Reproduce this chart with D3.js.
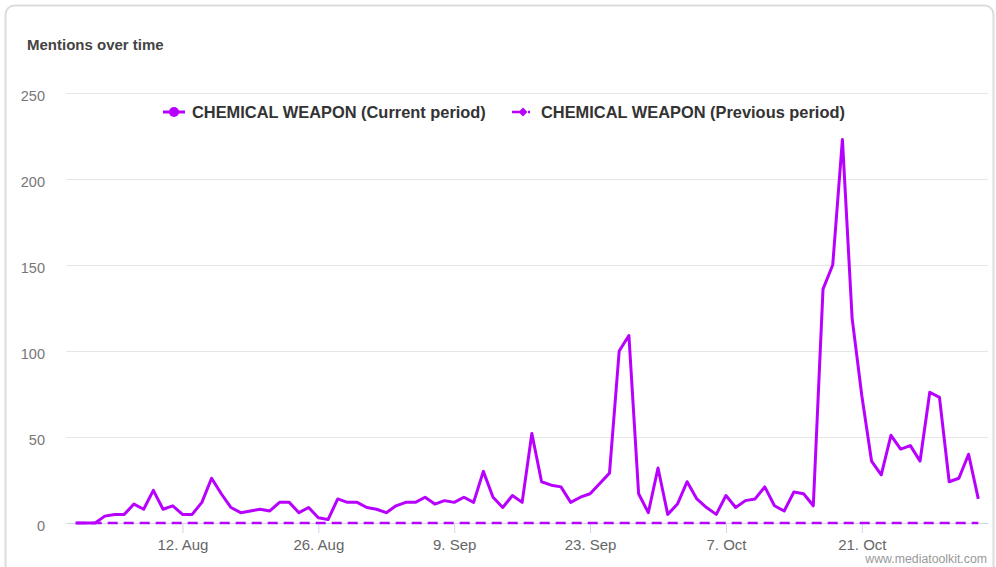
<!DOCTYPE html>
<html>
<head>
<meta charset="utf-8">
<script src="https://cdn.jsdelivr.net/npm/d3@7"></script>
<style>
  body { margin: 0; background: #fff; }
  svg { display: block; font-family: "Liberation Sans", Arial, sans-serif; }
</style>
</head>
<body>
<div id="chart"></div>
<script>
// daily mentions, 1 Aug -> 2 Nov
var startDate = "2019-08-01";
var currentValues = [0, 0, 0, 4, 5, 5, 11, 8, 19, 8,
  10, 5, 5, 12, 26, 17, 9, 6, 7, 8,
  7, 12, 12, 6, 9, 3, 2, 14, 12, 12,
  9, 8, 6, 10, 12, 12, 15, 11, 13, 12,
  15, 12, 30, 15, 9, 16, 12, 52, 24, 22,
  21, 12, 15, 17, 23, 29, 100, 109, 17, 6,
  32, 5, 11, 24, 14, 9, 5, 16, 9, 13,
  14, 21, 10, 7, 18, 17, 10, 136, 150, 223,
  119, 74, 36, 28, 51, 43, 45, 36, 76, 73,
  24, 26, 40, 14];
var previousValues = currentValues.map(function() { return 0; });
var yTicks = [0, 50, 100, 150, 200, 250];
var xTickDates = ["2019-08-12", "2019-08-26", "2019-09-09", "2019-09-23", "2019-10-07", "2019-10-21"];
var seriesNames = ["CHEMICAL WEAPON (Current period)", "CHEMICAL WEAPON (Previous period)"];

var parse = d3.utcParse("%Y-%m-%d");
var fmt = d3.utcFormat("%-d. %b");
var t0 = parse(startDate);
function toSeries(vals) {
  return vals.map(function(v, i) { return {date: d3.utcDay.offset(t0, i), value: v}; });
}
var current = toSeries(currentValues),
    previous = toSeries(previousValues);

var width = 996, height = 567;
var color = "#b800ff";

var svg = d3.select("#chart").append("svg")
    .attr("width", width)
    .attr("height", height);

// card
svg.append("rect")
    .attr("x", 5.5).attr("y", 5.5)
    .attr("width", 988).attr("height", 580)
    .attr("rx", 9)
    .attr("fill", "#fff")
    .attr("stroke", "#dcdcdc")
    .attr("stroke-width", 2);

svg.append("text")
    .attr("x", 27).attr("y", 50)
    .attr("font-size", 15).attr("font-weight", "bold")
    .attr("fill", "#444")
    .text("Mentions over time");

// scales
var x = d3.scaleUtc()
    .domain([d3.utcDay.offset(t0, -1), d3.utcDay.offset(t0, currentValues.length)])
    .range([66, 988]);
var y = d3.scaleLinear()
    .domain([0, 250])
    .range([523, 93]);

// grid + y labels
var yAxis = d3.axisLeft(y).tickValues(yTicks).tickSize(-(988 - 66)).tickPadding(21);
var gy = svg.append("g").attr("transform", "translate(66,0)").call(yAxis);
gy.select(".domain").remove();
gy.selectAll(".tick line").attr("stroke", "#e6e6e6");
gy.selectAll(".tick text")
    .attr("fill", "#777").attr("font-size", 14.5)
    .attr("dy", "0.55em");

// x axis
var xAxis = d3.axisBottom(x)
    .tickValues(xTickDates.map(parse))
    .tickFormat(fmt)
    .tickSize(10).tickSizeOuter(0).tickPadding(6);
var gx = svg.append("g").attr("transform", "translate(0,523)").call(xAxis);
gx.select(".domain").attr("stroke", "#ccd6eb");
gx.selectAll(".tick line").attr("stroke", "#ccd6eb");
gx.selectAll(".tick text").attr("fill", "#666").attr("font-size", 15);

// lines
var line = d3.line()
    .x(function(d) { return x(d.date); })
    .y(function(d) { return y(d.value); });

svg.append("path").datum(previous)
    .attr("d", line)
    .attr("fill", "none")
    .attr("stroke", color)
    .attr("stroke-width", 2.5)
    .attr("stroke-dasharray", "10,6");

svg.append("path").datum(current)
    .attr("d", line)
    .attr("fill", "none")
    .attr("stroke", color)
    .attr("stroke-width", 3)
    .attr("stroke-linejoin", "round");

// legend
var legend = svg.append("g").attr("transform", "translate(0,112)");
var l1 = legend.append("g").attr("transform", "translate(163,0)");
l1.append("line").attr("x1", 0).attr("x2", 22).attr("y1", 0).attr("y2", 0)
    .attr("stroke", color).attr("stroke-width", 3);
l1.append("circle").attr("cx", 11).attr("cy", 0).attr("r", 5).attr("fill", color);
l1.append("text").attr("x", 29).attr("y", 6)
    .attr("font-size", 16.4).attr("font-weight", "bold").attr("fill", "#333")
    .text(seriesNames[0]);

var l2 = legend.append("g").attr("transform", "translate(512,0)");
l2.append("line").attr("x1", 0).attr("x2", 22).attr("y1", 0).attr("y2", 0)
    .attr("stroke", color).attr("stroke-width", 2.5).attr("stroke-dasharray", "12,4,2,4");
l2.append("path").attr("d", d3.symbol(d3.symbolDiamond2, 50)())
    .attr("transform", "translate(11,0)").attr("fill", color);
l2.append("text").attr("x", 29).attr("y", 6)
    .attr("font-size", 16.4).attr("font-weight", "bold").attr("fill", "#333")
    .text(seriesNames[1]);

// watermark
svg.append("text")
    .attr("x", 987).attr("y", 563)
    .attr("text-anchor", "end")
    .attr("font-size", 12.3).attr("fill", "#999")
    .text("www.mediatoolkit.com");
</script>
</body>
</html>
